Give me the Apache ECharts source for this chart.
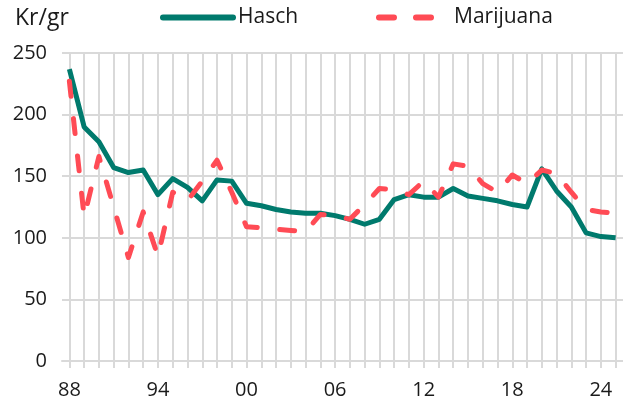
<!DOCTYPE html>
<html>
<head>
<meta charset="utf-8">
<script src="https://cdn.jsdelivr.net/npm/echarts@6/dist/echarts.min.js"></script>
<style>
  html, body { margin: 0; padding: 0; background: #fff; }
  #chart { width: 623px; height: 405px; }
</style>
</head>
<body>
<div id="chart"></div>
<script>
const years = [
  1988, 1989, 1990, 1991, 1992, 1993, 1994, 1995, 1996, 1997,
  1998, 1999, 2000, 2001, 2002, 2003, 2004, 2005, 2006, 2007,
  2008, 2009, 2010, 2011, 2012, 2013, 2014, 2015, 2016, 2017,
  2018, 2019, 2020, 2021, 2022, 2023, 2024, 2025
];
const hasch = [
  237, 190, 178, 157, 153, 155, 135, 148, 141, 130,
  147, 146, 128, 126, 123, 121, 120, 120, 118, 115,
  111, 115, 131, 135, 133, 133, 140, 134, 132, 130,
  127, 125, 156, 138, 125, 104, 101, 100
];
const marijuana = [
  227, 117, 166, 125, 84, 121, 85, 137, 130, 146,
  163, 137, 109, 108, 107, 106, 105, 119, 118, 115,
  127, 140, 139, 135, 146, 133, 160, 158, 144, 137,
  151, 144, 155, 152, 137, 123, 121, 120
];
const yTicks = { min: 0, max: 250, step: 50 };

const font = '"Open Sans", "Noto Sans", sans-serif';
const ink = '#1a1a1a';
const gridGrey = '#d9d9d9';
const green = '#007A6D';
const red = '#FF4B55';

const chart = echarts.init(document.getElementById('chart'), null, { renderer: 'canvas' });

const legendBase = {
  top: 7,
  padding: 0,
  itemWidth: 70,
  itemHeight: 20,
  itemStyle: { opacity: 0 },
  textStyle: { fontFamily: font, fontSize: 21, color: ink },
};

const option = {
  animation: false,
  textStyle: { fontFamily: font, color: ink },
  title: {
    text: 'Kr/gr',
    left: 15,
    top: 7,
    padding: 0,
    textStyle: { fontFamily: font, fontSize: 23, fontWeight: 'normal', color: ink },
  },
  legend: [
    {
      ...legendBase,
      data: ['Hasch'],
      left: 160,
      lineStyle: { width: 6, cap: 'round' },
    },
    {
      ...legendBase,
      data: ['Marijuana'],
      left: 376,
      lineStyle: { width: 6, cap: 'round', type: [15, 22] },
    },
  ],
  grid: {
    left: 62,
    right: -8,
    top: 53,
    bottom: 44,
  },
  xAxis: {
    type: 'category',
    data: years,
    boundaryGap: true,
    axisLine: { show: true, lineStyle: { color: gridGrey, width: 2 } },
    axisTick: {
      show: true,
      alignWithLabel: true,
      interval: 0,
      length: 7,
      lineStyle: { color: gridGrey, width: 2 },
    },
    axisLabel: {
      interval: 5,
      margin: 19,
      fontSize: 20,
      color: ink,
      fontFamily: font,
      formatter: (v) => String(v).slice(2),
    },
    splitLine: {
      show: true,
      alignWithLabel: true,
      interval: 0,
      lineStyle: { color: gridGrey, width: 2 },
    },
  },
  yAxis: {
    type: 'value',
    min: yTicks.min,
    max: yTicks.max,
    interval: yTicks.step,
    axisLine: { show: false },
    axisTick: { show: false },
    axisLabel: { margin: 15, fontSize: 20, color: ink, fontFamily: font },
    splitLine: { lineStyle: { color: gridGrey, width: 2 } },
  },
  series: [
    {
      name: 'Hasch',
      type: 'line',
      data: hasch,
      symbol: 'none',
      color: green,
      lineStyle: { width: 5, color: green, join: 'round' },
      z: 2,
    },
    {
      name: 'Marijuana',
      type: 'line',
      data: marijuana,
      symbol: 'none',
      color: red,
      lineStyle: { width: 5, color: red, type: [15, 22.5], cap: 'round', join: 'round' },
      z: 3,
    },
  ],
};

chart.setOption(option);
</script>
</body>
</html>
